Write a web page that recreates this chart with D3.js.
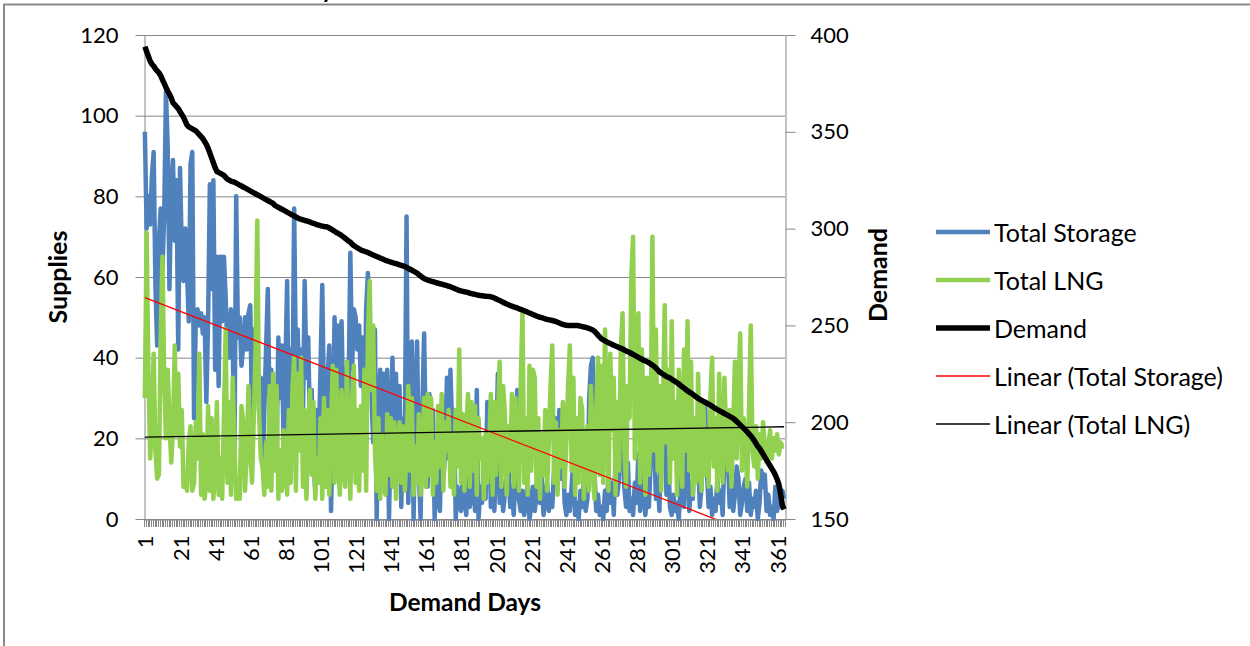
<!DOCTYPE html>
<html>
<head>
<meta charset="utf-8">
<script src="https://cdn.jsdelivr.net/npm/d3@7"></script>
<style>
  body { margin: 0; background: #fff; }
  svg { font-family: Lato, "Open Sans", sans-serif; }
</style>
</head>
<body>
<svg id="chart" width="1250" height="646"></svg>
<script>
// categories: demand days 1..365
const days = d3.range(1, 366);

const storage = [
  96, 72, 80, 73, 85, 91, 58, 43, 69, 77, 62, 75, 106, 92, 57, 82, 89, 69, 84, 42,
  87, 67, 59, 72, 61, 49, 88, 91, 25, 50, 52, 48, 51, 46, 50, 29, 49, 83, 57, 84,
  37, 65, 33, 65, 49, 65, 55, 42, 40, 52, 44, 16, 80, 45, 50, 38, 43, 50, 42, 51,
  53, 25, 47, 32, 39, 27, 35, 13, 27, 42, 57, 27, 37, 22, 32, 17, 45, 30, 43, 19,
  37, 59, 19, 42, 27, 77, 37, 47, 32, 42, 25, 59, 35, 45, 22, 32, 15, 7, 27, 18,
  37, 58, 27, 17, 35, 43, 2, 22, 50, 32, 48, 13, 49, 27, 37, 19, 32, 66, 37, 52,
  50, 42, 48, 33, 45, 25, 52, 61, 37, 32, 19, 47, 0, 27, 37, 15, 36, 17, 37, 0,
  22, 40, 15, 36, 10, 33, 3, 25, 17, 75, 4, 27, 44, 0, 27, 44, 12, 0, 27, 46,
  19, 8, 31, 15, 27, 0, 17, 5, 2, 22, 10, 17, 35, 15, 37, 22, 27, 0, 8, 4,
  2, 10, 5, 1, 15, 3, 6, 12, 2, 32, 0, 8, 4, 12, 5, 29, 28, 3, 10, 2,
  15, 36, 4, 9, 2, 6, 12, 15, 3, 8, 1, 10, 32, 5, 2, 7, 1, 4, 9, 0,
  3, 8, 2, 6, 17, 4, 10, 1, 5, 9, 2, 6, 3, 12, 25, 8, 27, 10, 20, 4,
  1, 6, 2, 8, 15, 1, 4, 0, 7, 3, 10, 2, 5, 30, 38, 40, 12, 2, 6, 1,
  3, 0, 7, 2, 12, 4, 9, 1, 15, 6, 10, 22, 26, 8, 3, 14, 2, 5, 1, 9,
  4, 16, 2, 12, 6, 1, 8, 3, 14, 22, 20, 5, 10, 2, 25, 18, 24, 6, 15, 3,
  1, 6, 2, 4, 0, 8, 12, 3, 20, 14, 2, 9, 5, 17, 10, 16, 3, 8, 22, 29,
  12, 3, 8, 1, 5, 2, 10, 4, 7, 1, 16, 12, 15, 3, 9, 2, 6, 13, 10, 1,
  4, 8, 10, 2, 9, 1, 5, 3, 7, 0, 4, 12, 8, 11, 2, 6, 1, 3, 0, 8, 2, 5, 3, 7, 5
];

const lng = [
  30, 71, 37, 15, 23, 41, 17, 10, 11, 45, 65, 35, 20, 37, 24, 14, 22, 43, 21, 36,
  18, 27, 8, 11, 7, 19, 23, 7, 9, 24, 15, 41, 6, 21, 5, 9, 28, 7, 25, 5,
  12, 29, 6, 15, 5, 25, 47, 9, 29, 6, 35, 19, 5, 8, 5, 28, 24, 7, 16, 33,
  17, 9, 25, 42, 74, 27, 15, 13, 6, 19, 8, 33, 7, 36, 12, 33, 5, 17, 7, 22,
  13, 6, 27, 9, 32, 40, 7, 36, 17, 40, 8, 27, 5, 22, 32, 11, 29, 5, 15, 9,
  25, 5, 30, 8, 27, 6, 24, 38, 9, 37, 15, 6, 32, 13, 8, 39, 19, 5, 29, 38,
  9, 27, 7, 28, 12, 37, 7, 45, 59, 32, 48, 17, 7, 25, 5, 21, 9, 6, 26, 11,
  25, 8, 24, 5, 19, 24, 9, 23, 7, 17, 33, 12, 30, 6, 18, 9, 26, 6, 15, 30,
  8, 31, 11, 30, 6, 19, 9, 28, 13, 31, 7, 24, 17, 27, 8, 21, 6, 27, 13, 42,
  9, 26, 7, 22, 31, 8, 29, 12, 28, 6, 25, 15, 20, 5, 21, 9, 17, 31, 6, 29,
  11, 24, 39, 8, 33, 26, 6, 23, 12, 31, 8, 30, 17, 7, 33, 51, 9, 25, 6, 38,
  12, 37, 35, 8, 25, 5, 21, 11, 27, 7, 19, 33, 43, 9, 24, 6, 22, 13, 29, 8,
  19, 33, 43, 12, 35, 6, 25, 9, 30, 27, 5, 17, 23, 7, 33, 19, 5, 27, 40, 11,
  38, 9, 47, 27, 7, 41, 22, 35, 6, 29, 12, 42, 51, 17, 8, 33, 25, 60, 70, 15,
  42, 51, 9, 42, 27, 6, 35, 11, 22, 70, 17, 47, 12, 33, 7, 27, 53, 19, 37, 9,
  49, 15, 29, 6, 37, 23, 8, 42, 17, 49, 12, 39, 6, 25, 9, 36, 17, 7, 29, 11,
  22, 8, 30, 40, 13, 25, 7, 36, 17, 9, 35, 21, 12, 27, 8, 23, 39, 15, 32, 46,
  12, 25, 19, 8, 27, 48, 17, 13, 23, 10, 21, 15, 24, 18, 14, 18, 22, 15, 20, 17, 21, 16, 19, 18, 18
];

const demand = [
  394, 391.5, 389, 386.5, 385, 384, 382.5, 381.5, 380.5, 379,
  377, 375, 373, 371, 369.5, 367.5, 365, 364, 363, 362,
  360.5, 359, 357.5, 355.5, 353.5, 352.5, 352, 351.5, 351, 350.5,
  349.5, 348.5, 347.5, 346.5, 345, 343.5, 341.5, 339, 336.5, 334,
  331.5, 329.5, 329, 328.5, 328, 327.5, 326.5, 325.5, 325, 324.5,
  324.2, 324, 323.5, 323, 322.5, 322, 321.5, 321, 320.5, 320,
  319.5, 319, 318.5, 318, 317.5, 317, 316.5, 316, 315.5, 315,
  314.5, 314, 313.5, 313, 312, 311.5, 311, 310.5, 310, 309.5,
  309, 308.5, 308, 307.5, 307, 306.5, 306, 305.5, 305, 304.8,
  304.5, 304.2, 304, 303.7, 303.4, 303, 302.7, 302.4, 302, 301.8,
  301.5, 301.3, 301.1, 301, 300.8, 300.3, 299.8, 299.2, 298.6, 298,
  297.5, 297, 296.4, 295.7, 295, 294.3, 293.5, 293, 292, 291.2,
  290.6, 290, 289.5, 289, 288.6, 288.3, 288, 287.6, 287.2, 286.8,
  286.4, 286, 285.6, 285.2, 284.8, 284.4, 284, 283.6, 283.3, 283,
  282.7, 282.4, 282.1, 281.9, 281.6, 281.3, 281, 280.7, 280.4, 280,
  279.5, 279, 278.5, 278, 277.5, 277, 276.2, 275.5, 274.8, 274.2,
  273.8, 273.4, 273.1, 272.8, 272.6, 272.3, 272, 271.8, 271.5, 271.3,
  271, 270.8, 270.5, 270.2, 270, 269.6, 269.2, 268.8, 268.4, 268,
  267.8, 267.6, 267.4, 267.2, 267, 266.6, 266.4, 266.2, 266, 265.8,
  265.6, 265.4, 265.3, 265.2, 265.1, 265, 264.9, 264.8, 264.5, 264.1,
  263.7, 263.3, 262.9, 262.4, 261.9, 261.5, 261.1, 260.7, 260.3, 259.9,
  259.6, 259.3, 259, 258.6, 258.2, 258, 257.6, 257.2, 256.8, 256.4,
  256, 255.6, 255.2, 254.8, 254.5, 254.2, 254, 253.7, 253.4, 253.1,
  252.9, 252.7, 252.5, 252.3, 252, 251.6, 251.2, 250.8, 250.5, 250.2,
  250.1, 250, 250, 250, 250, 250, 250, 249.8, 249.6, 249.4,
  249.2, 249, 248.7, 248.4, 248, 247.6, 247, 246, 245, 244,
  243, 242.5, 242, 241.5, 241, 240.6, 240.2, 239.8, 239.4, 239,
  238.6, 238.2, 237.8, 237.3, 236.8, 236.4, 236, 235.5, 235, 234.5,
  234, 233.5, 233, 232.5, 232, 231.6, 231.2, 230.7, 230.1, 229.5,
  228.8, 228, 227, 226, 225.4, 224.8, 224.2, 223.6, 223.2, 222.8,
  222.2, 221.6, 221, 220.4, 219.8, 219, 218.3, 217.6, 216.9, 216.2,
  215.6, 215, 214.4, 213.7, 213, 212.3, 211.8, 211.3, 210.8, 210.3,
  209.8, 209.3, 208.8, 208.2, 207.6, 207, 206.5, 206, 205.5, 205,
  204.5, 204, 203.5, 203, 202.5, 202, 201.2, 200.4, 199.5, 198.6,
  197.7, 196.8, 195.9, 195, 194, 193, 191.8, 190.5, 189, 187.5,
  186.5, 185, 183.5, 182, 180.5, 179, 177.5, 176, 174.5, 172.7,
  170.5, 168, 163, 157, 155
];

const supplyTicks = [0, 20, 40, 60, 80, 100, 120];
const demandTicks = [150, 200, 250, 300, 350, 400];
const dayLabels = days.filter(d => d % 20 === 1);

const seriesNames = ['Total Storage', 'Total LNG', 'Demand', 'Linear (Total Storage)', 'Linear (Total LNG)'];
const seriesColors = ['#4f81bd', '#92d050', '#000000', '#ff0000', '#000000'];
const seriesWidths = [4.5, 4.5, 5.5, 1.3, 1.3];

const svg = d3.select('#chart');
const plot = {left: 144, right: 785, top: 35, bottom: 519};
const gridColor = '#878787';

const x = d3.scaleBand().domain(days).range([plot.left, plot.right]);
const cx = d => x(d) + x.bandwidth() / 2;
const yL = d3.scaleLinear().domain([0, 120]).range([plot.bottom, plot.top]);
const yR = d3.scaleLinear().domain([150, 400]).range([plot.bottom, plot.top]);

// chart title sits above the visible area, only its descender shows
svg.append('text')
  .attr('x', 334)
  .attr('y', -2)
  .attr('text-anchor', 'end')
  .style('font-size', '24px')
  .style('font-weight', 'bold')
  .text('Daily');

// outer chart frame (cut off on the right and bottom)
svg.append('rect')
  .attr('x', 4)
  .attr('y', 4.5)
  .attr('width', 1400)
  .attr('height', 800)
  .attr('fill', 'none')
  .attr('stroke', '#8a8a8a')
  .attr('stroke-width', 2);

// gridlines
svg.append('g')
  .selectAll('line')
  .data(supplyTicks)
  .enter()
  .append('line')
  .attr('x1', plot.left)
  .attr('x2', plot.right)
  .attr('y1', d => yL(d) + 0.5)
  .attr('y2', d => yL(d) + 0.5)
  .attr('stroke', gridColor);

function styleAxis(g) {
  g.attr('font-family', null).attr('font-size', null);
  g.select('.domain').attr('stroke', gridColor);
  g.selectAll('.tick line').attr('stroke', gridColor);
  g.selectAll('.tick text').attr('fill', '#000').style('font-size', '22px');
}

// left axis
svg.append('g')
  .attr('transform', `translate(${plot.left + 0.5},0)`)
  .call(d3.axisLeft(yL).tickValues(supplyTicks).tickSize(9).tickSizeOuter(0).tickPadding(17))
  .call(styleAxis);

// right axis
svg.append('g')
  .attr('transform', `translate(${plot.right + 0.5},0)`)
  .call(d3.axisRight(yR).tickValues(demandTicks).tickSize(10).tickSizeOuter(0).tickPadding(15))
  .call(styleAxis);

// category tick marks between days
svg.append('g')
  .selectAll('line')
  .data(days.map(d => x(d)).concat([x.range()[1]]))
  .enter()
  .append('line')
  .attr('x1', d => Math.round(d) + 0.5)
  .attr('x2', d => Math.round(d) + 0.5)
  .attr('y1', plot.bottom)
  .attr('y2', plot.bottom + 8)
  .attr('stroke', gridColor);

// bottom axis line and rotated labels
svg.append('g')
  .attr('transform', `translate(0,${plot.bottom + 0.5})`)
  .call(d3.axisBottom(x).tickValues(dayLabels).tickSize(0).tickSizeOuter(0))
  .call(styleAxis)
  .call(g => g.selectAll('.tick text')
    .attr('y', 0)
    .attr('dy', null)
    .attr('x', -16)
    .attr('transform', 'rotate(-90)')
    .attr('text-anchor', 'end')
    .attr('dominant-baseline', 'central'));

// axis titles
svg.append('text')
  .attr('transform', `translate(57,277) rotate(-90)`)
  .attr('text-anchor', 'middle')
  .attr('dominant-baseline', 'central')
  .style('font-size', '25px')
  .style('font-weight', 'bold')
  .text('Supplies');

svg.append('text')
  .attr('transform', `translate(877,275) rotate(-90)`)
  .attr('text-anchor', 'middle')
  .attr('dominant-baseline', 'central')
  .style('font-size', '25px')
  .style('font-weight', 'bold')
  .text('Demand');

svg.append('text')
  .attr('x', 465)
  .attr('y', 601)
  .attr('text-anchor', 'middle')
  .attr('dominant-baseline', 'central')
  .style('font-size', '24.5px')
  .style('font-weight', 'bold')
  .text('Demand Days');

// series lines
const lineLeft = d3.line()
  .x((d, i) => cx(days[i]))
  .y(d => yL(d));

const lineRight = d3.line()
  .x((d, i) => cx(days[i]))
  .y(d => yR(d));

svg.append('path')
  .datum(storage)
  .attr('fill', 'none')
  .attr('stroke', seriesColors[0])
  .attr('stroke-width', seriesWidths[0])
  .attr('stroke-linejoin', 'round')
  .attr('d', lineLeft);

svg.append('path')
  .datum(lng)
  .attr('fill', 'none')
  .attr('stroke', seriesColors[1])
  .attr('stroke-width', seriesWidths[1])
  .attr('stroke-linejoin', 'round')
  .attr('d', lineLeft);

// linear trendlines (least squares over day number), clipped to the plot area
function linearFit(xs, ys) {
  const mx = d3.mean(xs);
  const my = d3.mean(ys);
  const slope = d3.sum(xs, (v, i) => (v - mx) * (ys[i] - my)) / d3.sum(xs, v => (v - mx) ** 2);
  return {a: my - slope * mx, b: slope};
}

svg.append('clipPath')
  .attr('id', 'plotClip')
  .append('rect')
  .attr('x', plot.left)
  .attr('y', plot.top)
  .attr('width', plot.right - plot.left)
  .attr('height', plot.bottom - plot.top);

[storage, lng].forEach((series, k) => {
  const fit = linearFit(days, series);
  const ends = [days[0], days[days.length - 1]];
  svg.append('line')
    .attr('clip-path', 'url(#plotClip)')
    .attr('x1', cx(ends[0]))
    .attr('x2', cx(ends[1]))
    .attr('y1', yL(fit.a + fit.b * ends[0]))
    .attr('y2', yL(fit.a + fit.b * ends[1]))
    .attr('stroke', seriesColors[3 + k])
    .attr('stroke-width', seriesWidths[3 + k]);
});

svg.append('path')
  .datum(demand)
  .attr('fill', 'none')
  .attr('stroke', seriesColors[2])
  .attr('stroke-width', seriesWidths[2])
  .attr('stroke-linejoin', 'round')
  .attr('d', lineRight);

// legend
const legend = svg.append('g')
  .attr('transform', 'translate(936,232)');

const legendItems = legend.selectAll('.legend-item')
  .data(seriesNames)
  .enter()
  .append('g')
  .attr('class', 'legend-item')
  .attr('transform', (d, i) => `translate(0,${i * 48})`);

legendItems.append('line')
  .attr('x1', 0)
  .attr('x2', 54)
  .attr('stroke', (d, i) => seriesColors[i])
  .attr('stroke-width', (d, i) => seriesWidths[i]);

legendItems.append('text')
  .attr('x', 58)
  .attr('dominant-baseline', 'central')
  .style('font-size', '25px')
  .text(d => d);
</script>
</body>
</html>
